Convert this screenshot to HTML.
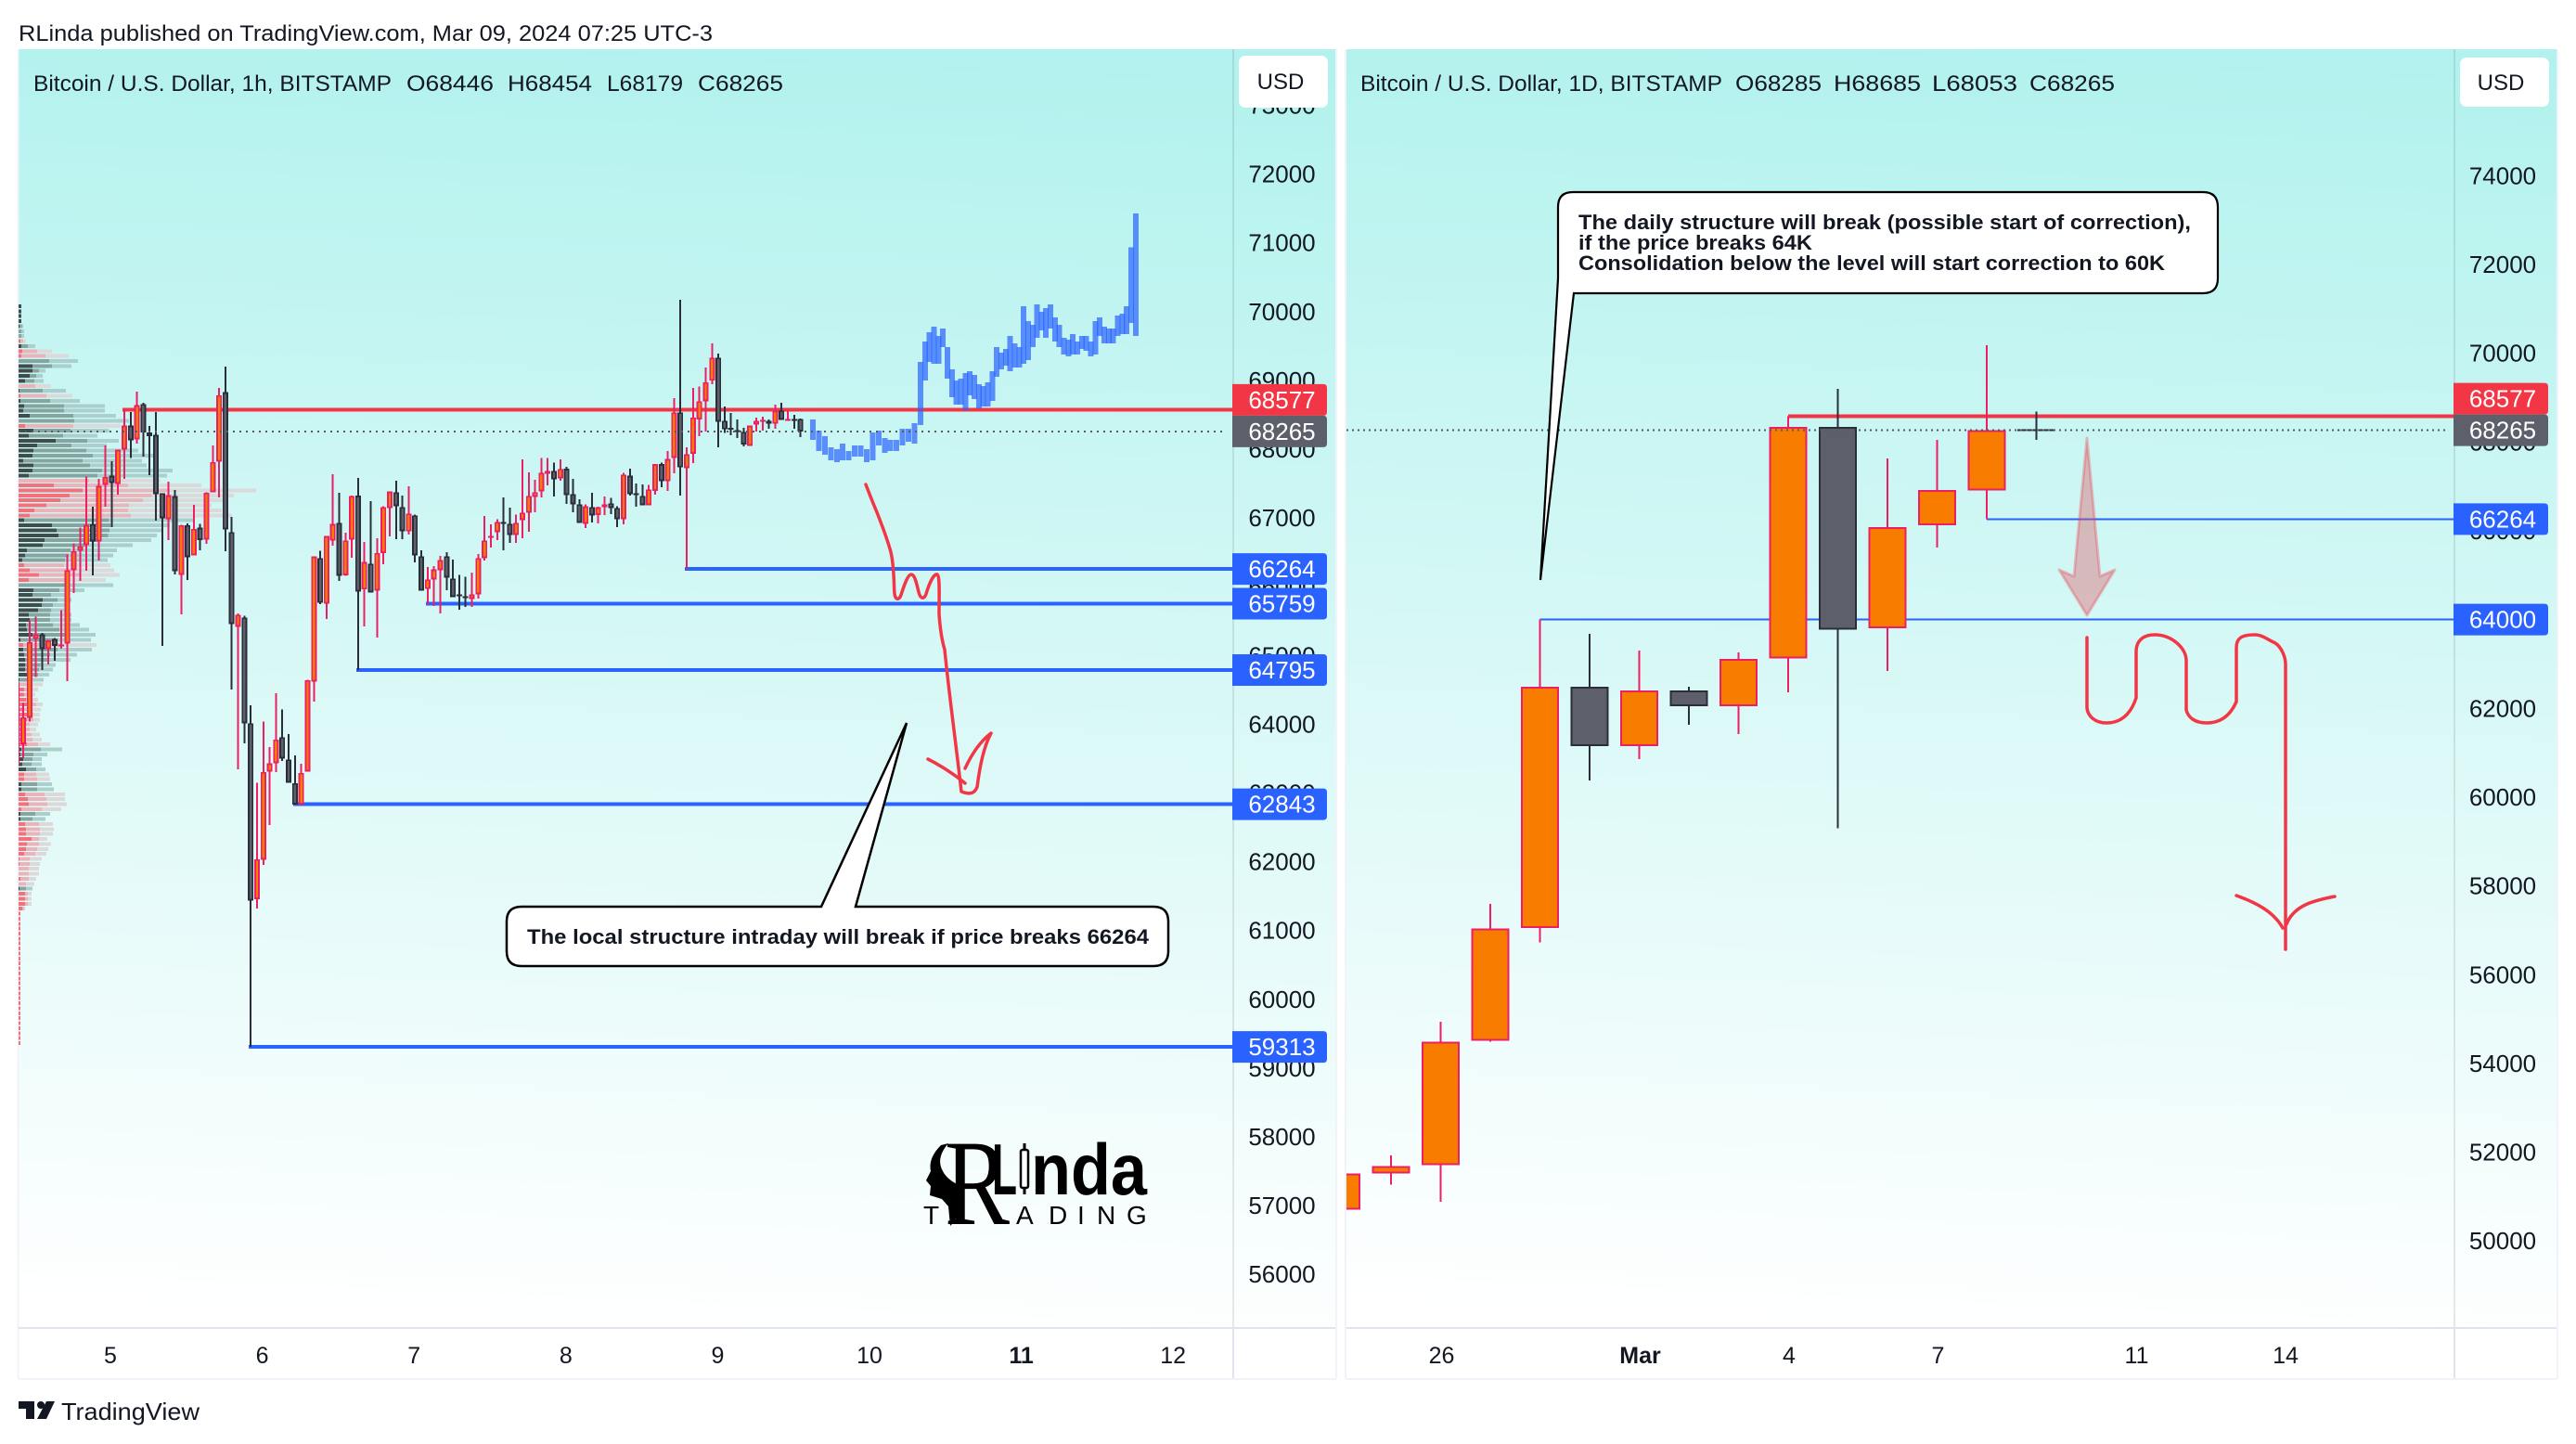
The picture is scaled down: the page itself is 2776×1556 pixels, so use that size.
<!DOCTYPE html>
<html lang="en">
<head>
<meta charset="utf-8">
<title>RLinda BTCUSD chart</title>
<style>
html,body{margin:0;padding:0;background:#fff;width:2776px;height:1556px;overflow:hidden}
svg{display:block;font-family:"Liberation Sans",sans-serif}
text{font-family:"Liberation Sans",sans-serif}
</style>
</head>
<body>
<svg id="root" xmlns="http://www.w3.org/2000/svg" width="2776" height="1556" viewBox="0 0 2776 1556">
  <defs>
    <linearGradient id="bgL" gradientUnits="userSpaceOnUse" x1="760" y1="53" x2="700" y2="1431">
      <stop offset="0" stop-color="#b2f2ee"/><stop offset="1" stop-color="#ffffff"/>
    </linearGradient>
    <linearGradient id="bgR" gradientUnits="userSpaceOnUse" x1="2140" y1="53" x2="2080" y2="1431">
      <stop offset="0" stop-color="#b2f2ee"/><stop offset="1" stop-color="#ffffff"/>
    </linearGradient>
    <clipPath id="clipL"><rect x="20" y="53" width="1309" height="1378"/></clipPath>
    <clipPath id="clipR"><rect x="1451" y="53" width="1194" height="1378"/></clipPath>
  </defs>

  <rect x="0" y="0" width="2776" height="1556" fill="#ffffff"/>
  <text x="20" y="44" font-size="24" fill="#131722" textLength="748" lengthAdjust="spacingAndGlyphs">RLinda published on TradingView.com, Mar 09, 2024 07:25 UTC-3</text>

  <!-- Left pane -->
  <g>
    <rect x="20" y="53" width="1420" height="1378" fill="url(#bgL)"/>
    <rect x="18.5" y="53" width="2" height="1433" fill="#f0f3fa"/>
    <rect x="1328" y="53" width="2" height="1378" fill="#000" opacity=".09"/>
    <rect x="20" y="1430" width="1420" height="2" fill="#e0e3eb"/>
    <rect x="1328" y="1431" width="2" height="55" fill="#e0e3eb"/>
    <rect x="20" y="1485" width="1420" height="2" fill="#f0f3fa"/>
    <rect x="1439" y="53" width="2" height="1433" fill="#f0f3fa"/>
    <g id="vpG" clip-path="url(#clipL)" shape-rendering="crispEdges"></g>
    <g id="levelsL" clip-path="url(#clipL)" shape-rendering="crispEdges"></g>
    <g id="candlesL" clip-path="url(#clipL)" shape-rendering="crispEdges"></g>
    <g id="ghostG" clip-path="url(#clipL)" shape-rendering="crispEdges"></g>
    <g id="dotL" clip-path="url(#clipL)" shape-rendering="crispEdges"></g>
    <path fill="none" stroke="#f23645" stroke-width="3.5" stroke-linecap="round" stroke-linejoin="round" d="M933,522 C938,535 942,545 945,552 C950,565 956,580 960,595 C964,612 963,630 964,640 C965,647 969,647 971,641 C974,632 978,619 982,619 C986,619 988,630 990,638 C992,646 996,646 998,640 C1001,630 1006,618 1010,619 C1013,621 1012,640 1012,662 C1013,676 1015,690 1018,700 C1023,750 1030,800 1036,853 C1044,856 1050,856 1053,848 C1056,825 1060,805 1068,790 C1055,800 1046,815 1040,828 M1000,818 C1012,824 1028,834 1040,844"/>
    <path fill="#ffffff" stroke="#000" stroke-width="2.5" d="M562,977 H885 L977,779 L922,977 H1243 Q1259,977 1259,993 V1025 Q1259,1041 1243,1041 H562 Q546,1041 546,1025 V993 Q546,977 562,977 Z"/>
    <text x="568" y="1017" font-size="22" font-weight="700" fill="#131722" textLength="670" lengthAdjust="spacingAndGlyphs">The local structure intraday will break if price breaks 66264</text>
    <g>
      <text x="1018" y="1319" font-size="132" font-weight="400" fill="#000" style="font-family:'Liberation Serif',serif" textLength="70" lengthAdjust="spacingAndGlyphs">R</text>
      <path fill="#000" d="M1014,1234 Q1000,1248 1003,1262 L998,1272 L1003,1278 L1002,1288 L1015,1292 L1022,1300 L1024,1321 Q1040,1305 1031,1276 Q1020,1270 1016,1262 Q1008,1248 1022,1232 Z"/>
      <text x="1069" y="1287" font-size="78" font-weight="700" fill="#000" textLength="27" lengthAdjust="spacingAndGlyphs">L</text>
      <rect x="1102.5" y="1232" width="3" height="55" fill="#000"/>
      <rect x="1100" y="1239" width="8" height="41" rx="2" fill="#ffffff" stroke="#000" stroke-width="2.5"/>
      <text x="1111" y="1287" font-size="78" font-weight="700" fill="#000" textLength="125" lengthAdjust="spacingAndGlyphs">nda</text>
      <text x="995" y="1319" font-size="28" fill="#000">T</text>
      <text x="1095 1130 1161 1182 1214" y="1319" font-size="28" fill="#000">ADING</text>
    </g>
    <text x="36" y="98" font-size="24" fill="#131722" textLength="386" lengthAdjust="spacingAndGlyphs">Bitcoin / U.S. Dollar, 1h, BITSTAMP</text>
    <text x="438" y="98" font-size="24" fill="#131722" textLength="94" lengthAdjust="spacingAndGlyphs">O68446</text>
    <text x="547" y="98" font-size="24" fill="#131722" textLength="91" lengthAdjust="spacingAndGlyphs">H68454</text>
    <text x="654" y="98" font-size="24" fill="#131722" textLength="82" lengthAdjust="spacingAndGlyphs">L68179</text>
    <text x="752" y="98" font-size="24" fill="#131722" textLength="92" lengthAdjust="spacingAndGlyphs">C68265</text>
    <g id="ticksL"></g>
    <g id="timeL"></g>
    <g id="labelsL"></g>
    <rect x="1335" y="60" width="96" height="56" rx="7" fill="#ffffff"/>
    <text x="1380" y="96" font-size="24" text-anchor="middle" fill="#131722">USD</text>
  </g>

  <!-- Right pane -->
  <g>
    <rect x="1451" y="53" width="1305" height="1378" fill="url(#bgR)"/>
    <rect x="1449" y="53" width="2" height="1433" fill="#f0f3fa"/>
    <rect x="2644" y="53" width="2" height="1378" fill="#000" opacity=".09"/>
    <rect x="1451" y="1430" width="1305" height="2" fill="#e0e3eb"/>
    <rect x="2644" y="1431" width="2" height="55" fill="#e0e3eb"/>
    <rect x="1451" y="1485" width="1305" height="2" fill="#f0f3fa"/>
    <rect x="2755" y="53" width="2" height="1433" fill="#f0f3fa"/>
    <g id="levelsR" clip-path="url(#clipR)" shape-rendering="crispEdges"></g>
    <g id="candlesR" clip-path="url(#clipR)" shape-rendering="crispEdges"></g>
    <g id="dotR" clip-path="url(#clipR)" shape-rendering="crispEdges"></g>
    <path fill="#e0545f" fill-opacity=".38" stroke="#f23645" stroke-opacity=".3" stroke-width="3" stroke-linejoin="round" d="M2249,472 L2263,621 L2279,614 L2249,663 L2219,614 L2235,621 Z"/>
    <path fill="none" stroke="#f23645" stroke-width="3.5" stroke-linecap="round" stroke-linejoin="round" d="M2249,687 V763 C2250,772 2258,779 2270,779 C2285,779 2296,770 2302,752 V702 C2302,692 2308,684 2322,684 C2340,684 2356,698 2356,712 V765 C2358,773 2365,779 2378,779 C2394,779 2404,770 2410,756 V698 C2410,688 2415,684 2430,684 C2438,684 2445,690 2452,693 C2458,697 2463,707 2463,716 V1023 M2410,965 C2430,972 2450,982 2460,1000 M2464,996 C2472,975 2495,970 2516,966"/>
    <path fill="#ffffff" stroke="#000" stroke-width="2.2" d="M1695,207 H2374 Q2390,207 2390,223 V300 Q2390,316 2374,316 H1696 L1660,625 L1679,300 V223 Q1679,207 1695,207 Z"/>
    <text x="1701" y="247" font-size="22" font-weight="700" fill="#131722" textLength="660" lengthAdjust="spacingAndGlyphs">The daily structure will break (possible start of correction),</text>
    <text x="1701" y="269" font-size="22" font-weight="700" fill="#131722" textLength="252" lengthAdjust="spacingAndGlyphs">if the price breaks 64K</text>
    <text x="1701" y="291" font-size="22" font-weight="700" fill="#131722" textLength="632" lengthAdjust="spacingAndGlyphs">Consolidation below the level will start correction to 60K</text>
    <text x="1466" y="98" font-size="24" fill="#131722" textLength="390" lengthAdjust="spacingAndGlyphs">Bitcoin / U.S. Dollar, 1D, BITSTAMP</text>
    <text x="1870" y="98" font-size="24" fill="#131722" textLength="93" lengthAdjust="spacingAndGlyphs">O68285</text>
    <text x="1976" y="98" font-size="24" fill="#131722" textLength="94" lengthAdjust="spacingAndGlyphs">H68685</text>
    <text x="2082" y="98" font-size="24" fill="#131722" textLength="92" lengthAdjust="spacingAndGlyphs">L68053</text>
    <text x="2187" y="98" font-size="24" fill="#131722" textLength="92" lengthAdjust="spacingAndGlyphs">C68265</text>
    <g id="ticksR"></g>
    <g id="timeR"></g>
    <g id="labelsR"></g>
    <rect x="2651" y="62" width="96" height="53" rx="7" fill="#ffffff"/>
    <text x="2695" y="97" font-size="24" text-anchor="middle" fill="#131722">USD</text>
  </g>

  <g>
    <path fill="#131722" d="M20,1510 H37 V1529 H28 V1518 H20 Z M50,1510 H59 L50,1529 H40 Z"/>
    <circle cx="44" cy="1514" r="4" fill="#131722"/>
    <text x="66" y="1530" font-size="26" fill="#131722" textLength="149" lengthAdjust="spacingAndGlyphs">TradingView</text>
  </g>
</svg>

<script>
// ---- Left chart (1h) data ----
const leftOpen=[63418,63716,64099,65247,65314,65098,65247,65148,65179,66246,66529,66610,66916,66664,67487,67622,67501,68000,68347,68149,68662,68248,68212,67366,66988,67325,66178,66902,66461,66866,66691,67380,67825,68833,66799,65423,65558,64019,61463,62035,63317,63438,63817,63493,63150,62840,63317,64627,66422,65761,66674,66935,66174,66692,67331,65967,66341,65950,66498,67151,67380,67165,66809,67043,66449,65972,66112,66246,66449,66125,65896,65868,65828,65896,66422,66719,66800,66948,66922,66760,66975,67083,67313,67394,67650,67691,67583,67723,67353,67205,66921,67165,67048,67165,67219,67151,66989,67619,67367,67326,67191,67402,67789,67541,67879,68540,67731,67942,68441,68703,69004,69337,68419,68315,68284,68257,68055,68365,68419,68419,68374,68567,68428,68442,68446];
const leftHigh=[64619,64315,65516,65570,65337,65233,65260,65665,66475,66637,66866,67609,67168,67573,68059,67829,68000,68576,68545,68842,68680,68342,68545,67366,67532,67411,66907,66925,67195,66920,67380,68059,68896,69207,67020,65617,65585,64280,63155,64046,63672,64455,64221,63862,63551,63430,64654,66449,66530,66746,67641,67371,66791,67331,67587,66656,67250,66710,67178,67394,67547,67331,67466,67056,66535,66292,66305,66454,66508,66400,66179,66152,66210,66481,67034,66912,66989,67304,67156,67056,67858,67668,67560,67880,67880,67812,67858,67750,67574,67277,67205,67371,67169,67317,67300,67178,67664,67723,67506,67493,67488,67789,67812,67978,68747,70179,68036,68900,68914,69197,69544,69396,68626,68531,68437,68315,68351,68464,68477,68437,68653,68680,68572,68504,68454];
const leftLow=[63418,63514,64045,64693,64796,64873,64931,65103,64630,65912,66088,66236,66169,66385,67168,66871,67348,67573,67875,68090,67897,67627,66965,65143,66682,66183,65607,66101,66461,66533,66628,67380,67303,66520,64509,63349,63727,59313,61324,61963,62539,63313,63470,63155,62840,62840,63317,64334,65752,65536,66606,66089,66161,66426,64795,65428,65922,65266,66332,66737,66696,66696,66764,66359,65950,65752,65724,65617,65954,65855,65670,65711,65711,65833,66386,66575,66683,66535,66643,66643,66710,66805,67088,67304,67480,67317,67547,67210,67088,66935,66858,66940,66926,67048,67061,66872,66912,67331,67169,67191,67191,67348,67451,67397,67654,67330,66264,67802,68194,68261,68950,68032,68239,68207,68171,68046,68055,68261,68275,68302,68302,68433,68428,68302,68179];
const leftClose=[64619,64108,65202,65314,65098,65224,65148,65165,66246,66525,66592,66903,66664,67470,67604,67514,68000,68347,68135,68644,68252,68198,67352,67002,67335,66232,66902,66434,66848,66686,67375,67820,68792,66839,65462,65599,64019,61441,62043,63313,63438,63785,63506,63155,62840,63299,64649,66445,65770,66741,66917,66165,66679,67326,65936,66364,65922,66498,67165,67390,67178,66814,67070,66462,65950,66112,66256,66395,66139,65855,65882,65855,65896,66422,66679,66741,66948,66935,66760,66935,67083,67326,67380,67664,67691,67565,67718,67340,67205,66935,67173,67043,67160,67205,67151,66989,67637,67353,67353,67191,67421,67789,67541,67865,68540,67740,67933,68468,68703,68981,69337,68406,68293,68297,68270,68073,68347,68419,68432,68374,68563,68433,68442,68428,68265];

const ghostHigh=[68437,68275,68194,68032,68005,68086,67978,68059,68059,68005,68248,68275,68167,68140,68140,68302,68302,68383,69274,69571,69706,69787,69652,69760,69490,69166,69004,69031,69112,69139,69085,68950,68923,68977,69139,69490,69409,69463,69652,69544,69490,70084,69868,69814,70111,70003,70057,70111,69922,69814,69625,69598,69679,69571,69652,69652,69571,69868,69922,69787,69760,69760,69949,69976,70084,70939,71434];
const ghostLow=[68140,67978,67924,67843,67816,67843,67843,67897,67897,67816,67843,68059,67951,67978,67978,68059,68113,68086,68356,69004,69274,69247,69247,69490,69031,68761,68653,68653,68572,68788,68734,68599,68626,68626,68707,69058,69166,69220,69139,69193,69193,69247,69301,69490,69625,69733,69625,69760,69571,69490,69382,69355,69382,69382,69463,69436,69355,69382,69652,69544,69544,69544,69652,69679,69679,69841,69652];

const vpInner=[9,9,9,9,3,0,0,6,9,12,9,0,45,45,36,21,0,3,6,6,18,15,36,0,21,48,33,120,60,48,45,15,48,45,33,0,114,207,165,135,90,51,36,18,108,123,129,84,78,27,21,12,18,36,66,33,0,48,45,78,75,63,33,36,24,27,45,6,15,15,18,21,21,21,27,3,3,18,18,24,30,18,30,27,15,12,9,12,27,9,6,15,12,24,18,18,9,9,21,30,33,9,6,6,21,24,24,42,27,24,18,3,3,0,0,6,0,3,21,21,21,12,6,6,6,6,6,6,6,6,6,6,6,6,6,6,6,6,6,6,6,6,6,6,6,6,6,6,6];
const vpMiddle=[9,9,9,9,10,9,9,15,30,60,87,99,108,66,57,51,54,78,90,102,147,147,177,180,177,168,144,222,171,219,240,207,231,270,255,228,354,489,430,402,357,354,363,292,297,294,289,255,219,168,162,150,147,171,196,159,153,132,105,126,111,105,102,102,111,132,150,120,132,126,102,96,70,66,63,42,40,42,36,42,57,45,48,48,36,36,42,45,63,72,48,45,42,57,57,60,60,60,84,90,93,75,54,45,66,69,69,66,66,60,54,36,36,33,33,33,24,24,30,30,30,18,6,6,6,6,6,6,6,6,6,6,6,6,6,6,6,6,6,6,6,6,6,6,6,6,6,6,6];
const vpOuter=[9,9,9,9,15,18,18,24,54,108,162,192,171,87,78,81,105,153,174,198,279,279,315,357,330,292,255,324,285,387,435,399,414,498,480,459,591,768,696,660,624,657,690,570,489,465,447,429,369,318,306,288,297,309,327,282,306,213,165,171,150,150,171,171,198,228,249,234,252,237,189,168,120,111,99,81,78,63,54,63,78,72,69,69,63,57,69,75,102,141,93,75,75,87,99,102,108,114,150,150,156,138,102,87,111,114,111,93,105,96,90,75,69,66,66,57,51,45,42,42,42,21,6,6,6,6,6,6,6,6,6,6,6,6,6,6,6,6,6,6,6,6,6,6,6,6,6,6,6];
const vpSide=("gggggggrgr"+"rgggggrgrg"+"ggggrggggg"+"gggggrrrrr"+"rrrggggggg"+"ggrrrrgggg"+"ggggggggrg"+"ggggggrrrr"+"rrrr"+"r"+"rrrrgggggr"+"rggrrrrggr"+"rrrrrrrrrr"+"rrgrrrr"+"rrrrrrrrrrrrrrrrrrrrrrrrrrr").split("");

const leftPriceTicks=[56000,57000,58000,59000,60000,61000,62000,63000,64000,65000,66000,67000,68000,69000,70000,71000,72000,73000];
const leftDays=["5","6","7","8","9","10","11","12"];
const leftBoldDays=["11"];
const leftSupportLevels=[66264,65759,64795,62843,59313];
const leftSupportStartBars=[106,65,54,44,37];
const leftResistanceLevel=68577;
const leftResistanceStartBar=17;
const lastPrice=68265;

// ---- Right chart (1D) data ----
const rightDates=["Feb 24","Feb 25","Feb 26","Feb 27","Feb 28","Feb 29","Mar 1","Mar 2","Mar 3","Mar 4","Mar 5","Mar 6","Mar 7","Mar 8","Mar 9"];
const rightOpen=[50710,51525,51713,54515,57051,62487,61149,62403,62048,63120,68345,63799,66125,66913,68285];
const rightHigh=[51525,51929,54939,57595,64000,63678,63302,62487,63260,68577,69198,67632,68048,70185,68685];
const rightLow=[50710,51266,50883,54486,56722,60375,60856,61630,61421,62362,59294,62842,65623,66257,68053];
const rightClose=[51525,51684,54486,57036,62487,61149,62403,62048,63114,68345,63775,66087,66919,68263,68265];
const rightPriceTicks=[50000,52000,54000,56000,58000,60000,62000,64000,66000,68000,70000,72000,74000];
const rightTimeTicks=["26","Mar","4","7","11","14"];
const rightTimeTickBars=[2,6,9,12,16,19];
const rightBoldTicks=["Mar"];
const rightSupportLevels=[66264,64000];
const rightSupportStartBars=[13,4];
const rightResistanceLevel=68577;
const rightResistanceStartBar=9;

// ---- Axis functions ----
function leftY(p){return 441.7+(68577-p)*0.0741;}
function rightY(p){return 448.7+(68577-p)*0.04783;}
function leftX(i){return 18.19+6.81*i;}
function rightX(i){return 1445.5+53.5*i;}
function ghostX(k){return k<18?876+6.44*k:992+4.83*(k-18);}
function dayX(k){return 119+163.6*k;}
function vpY(k){return 330+5.365*k;}

const NS="http://www.w3.org/2000/svg";
function addRect(parent,x,y,w,h,fill,name){
  const el=document.createElementNS(NS,"rect");
  
  
  el.setAttribute("x",x);el.setAttribute("y",y);el.setAttribute("width",w);el.setAttribute("height",h);
  el.setAttribute("fill",fill);
  parent.appendChild(el);
  return el;
}
function addText(parent,x,y,str,size,fill,anchor,bold,name){
  const el=document.createElementNS(NS,"text");
  
  
  el.setAttribute("x",x);el.setAttribute("y",y);el.setAttribute("font-size",size);
  el.setAttribute("fill",fill);el.setAttribute("text-anchor",anchor);
  if(bold)el.setAttribute("font-weight","700");
  el.textContent=str;
  parent.appendChild(el);
  return el;
}
function addLine(parent,x1,x2,y,stroke,width,dash,name){
  const el=document.createElementNS(NS,"line");
  
  
  el.setAttribute("x1",x1);el.setAttribute("x2",x2);el.setAttribute("y1",y);el.setAttribute("y2",y);
  el.setAttribute("stroke",stroke);el.setAttribute("stroke-width",width);
  if(dash)el.setAttribute("stroke-dasharray",dash);
  parent.appendChild(el);
}
function drawCandles(parent,open,high,low,close,xf,yf,half,wick,sw){
  for(let i=0;i<open.length;i++){
    const up=close[i]>=open[i];
    const edge=up?"#ec1f65":"#2a2e39";
    const fill=up?"#f77c00":"#5d606b";
    const x=xf(i);
    addRect(parent,x-wick/2,yf(high[i]),wick,Math.max(1,yf(low[i])-yf(high[i])),edge,up?"candle-wick-up":"candle-wick-down");
    const t=yf(Math.max(open[i],close[i]));
    const b=yf(Math.min(open[i],close[i]));
    const h=Math.max(2,b-t);
    addRect(parent,x-half,t,half*2,h,edge,up?"candle-body-up":"candle-body-down");
    if(h>2*sw){
      addRect(parent,x-half+sw,t+sw,half*2-2*sw,h-2*sw,fill,up?"candle-fill-up":"candle-fill-down");
    }
  }
}
function drawLabel(parent,cx,x0,yc,str,fill,name){
  const w=102,h=34,r=4,t=yc-h/2;
  const el=document.createElementNS(NS,"path");
  
  
  el.setAttribute("d","M"+x0+","+t+" H"+(x0+w-r)+" Q"+(x0+w)+","+t+" "+(x0+w)+","+(t+r)+" V"+(t+h-r)+" Q"+(x0+w)+","+(t+h)+" "+(x0+w-r)+","+(t+h)+" H"+x0+" Z");
  el.setAttribute("fill",fill);
  parent.appendChild(el);
  addText(parent,cx,yc+9,str,26,"#ffffff","middle",false,name+"-text");
}

const $=function(id){return document.getElementById(id);};

// Volume profile
for(let k=0;k<vpOuter.length;k++){
  const green=vpSide[k]==="g";
  const y=vpY(k)-2;
  addRect($("vpG"),20,y,vpOuter[k]/3,4,green?"#abcfcc":"#dcd9da","volume-row-outer");
  addRect($("vpG"),20,y,vpMiddle[k]/3,4,green?"#87a5a0":"#e9b5bb","volume-row-middle");
  if(vpInner[k]>0){
    addRect($("vpG"),20,y,vpInner[k]/3,4,green?"#3f4d4c":"#f3707d","volume-row-inner");
  }
}

// Left levels
addLine($("levelsL"),leftX(leftResistanceStartBar)-2,1329,leftY(leftResistanceLevel),"#f23645",4,null,"resistance-line-68577");
for(let i=0;i<leftSupportLevels.length;i++){
  addLine($("levelsL"),leftX(leftSupportStartBars[i])-2,1329,leftY(leftSupportLevels[i]),"#2962ff",4,null,"support-line-"+leftSupportLevels[i]);
}
drawCandles($("candlesL"),leftOpen,leftHigh,leftLow,leftClose,leftX,leftY,3,2,1.8);
for(let k=0;k<ghostHigh.length;k++){
  const el=addRect($("ghostG"),ghostX(k)-3,leftY(ghostHigh[k]),6,leftY(ghostLow[k])-leftY(ghostHigh[k]),"#2962ff","projected-bar");
  el.setAttribute("fill-opacity","0.7");
}
addLine($("dotL"),20,1322,leftY(lastPrice),"#555a66",2,"2 5","last-price-dotted-line");

// Left axis
leftPriceTicks.forEach(function(p){
  addText($("ticksL"),1381.5,leftY(p)+8.5,String(p),26,"#131722","middle",false,"price-tick-"+p);
});
leftDays.forEach(function(d,k){
  addText($("timeL"),dayX(k),1469,d,25,"#131722","middle",leftBoldDays.indexOf(d)>=0,"time-tick-"+d);
});
const grayCenterL=leftY(lastPrice);
drawLabel($("labelsL"),1381.5,1328,grayCenterL-34,String(leftResistanceLevel),"#f23645","label-resistance");
drawLabel($("labelsL"),1381.5,1328,grayCenterL,String(lastPrice),"#5d606b","label-last-price");
leftSupportLevels.forEach(function(p){
  drawLabel($("labelsL"),1381.5,1328,leftY(p),String(p),"#2962ff","label-support-"+p);
});

// Right levels
addLine($("levelsR"),rightX(rightResistanceStartBar),2645,rightY(rightResistanceLevel),"#f23645",4,null,"resistance-line-68577");
for(let i=0;i<rightSupportLevels.length;i++){
  addLine($("levelsR"),rightX(rightSupportStartBars[i]),2645,rightY(rightSupportLevels[i]),"#2962ff",2,null,"support-line-"+rightSupportLevels[i]);
}
drawCandles($("candlesR"),rightOpen,rightHigh,rightLow,rightClose,rightX,rightY,20.5,2,2);
addLine($("dotR"),1451,2638,rightY(lastPrice),"#555a66",2,"2 4","last-price-dotted-line");

// Right axis
rightPriceTicks.forEach(function(p){
  addText($("ticksR"),2697,rightY(p)+9,String(p),26,"#131722","middle",false,"price-tick-"+p);
});
rightTimeTicks.forEach(function(t,k){
  addText($("timeR"),rightX(rightTimeTickBars[k])+1,1469,t,25,"#131722","middle",rightBoldTicks.indexOf(t)>=0,"time-tick-"+t);
});
const grayCenterR=rightY(lastPrice);
drawLabel($("labelsR"),2697,2644,grayCenterR-34,String(rightResistanceLevel),"#f23645","label-resistance");
drawLabel($("labelsR"),2697,2644,grayCenterR,String(lastPrice),"#5d606b","label-last-price");
rightSupportLevels.forEach(function(p){
  drawLabel($("labelsR"),2697,2644,rightY(p),String(p),"#2962ff","label-support-"+p);
});
</script>
</body>
</html>
